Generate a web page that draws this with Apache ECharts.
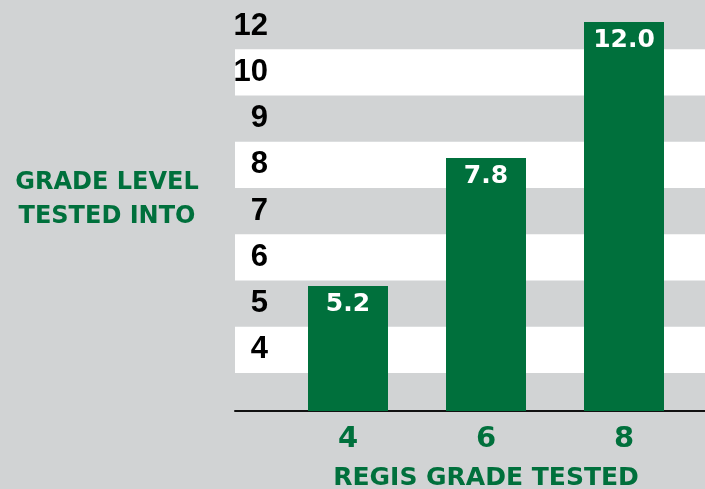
<!DOCTYPE html>
<html>
<head>
<meta charset="utf-8">
<script src="https://cdn.jsdelivr.net/npm/echarts@6/dist/echarts.min.js"></script>
<style>
  html, body { margin: 0; padding: 0; background: #d1d3d4; }
  #chart { width: 705px; height: 489px; }
</style>
</head>
<body>
<div id="chart"></div>
<script>
// regis grade tested vs grade level tested into
const categories = ['4', '6', '8'];
const values = [5.2, 7.8, 12.0];
const yTickLabels = ['4', '5', '6', '7', '8', '9', '10', '12'];
const xAxisTitle = 'REGIS GRADE TESTED';
const yAxisTitle = 'GRADE LEVEL\nTESTED INTO';

const green = '#00703c';
const wideFont = "'DejaVu Sans', 'Open Sans', sans-serif";
const narrowFont = "'Liberation Sans', Arial, sans-serif";

const chart = echarts.init(document.getElementById('chart'));

chart.setOption({
  backgroundColor: '#d1d3d4',
  animation: false,
  graphic: [{
    type: 'text',
    x: 107,
    y: 166,
    style: {
      text: yAxisTitle,
      textAlign: 'center',
      textVerticalAlign: 'top',
      fill: green,
      font: 'bold 24px ' + wideFont,
      lineHeight: 34
    }
  }],
  grid: [
    // bars
    { left: 279, right: 12, top: 22, bottom: 78, outerBoundsMode: 'none', containLabel: false },
    // bands + tick labels
    { left: 235, right: 0, top: 3, bottom: 116, outerBoundsMode: 'none', containLabel: false }
  ],
  xAxis: [{
    type: 'category',
    gridIndex: 0,
    data: categories,
    axisLine: { show: false },
    axisTick: { show: false },
    axisLabel: {
      color: green,
      fontFamily: wideFont,
      fontWeight: 'bold',
      fontSize: 29,
      margin: 14
    },
    name: xAxisTitle,
    nameLocation: 'middle',
    nameGap: 55,
    nameTextStyle: {
      color: green,
      fontFamily: wideFont,
      fontWeight: 'bold',
      fontSize: 25
    }
  }, {
    type: 'value',
    gridIndex: 1,
    offset: 38,
    axisLine: { show: true, lineStyle: { color: '#111', width: 2 } },
    axisTick: { show: false },
    axisLabel: { show: false },
    splitLine: { show: false }
  }],
  yAxis: [{
    type: 'log',
    gridIndex: 0,
    min: 3.5,
    max: 12,
    show: false
  }, {
    type: 'category',
    gridIndex: 1,
    data: yTickLabels,
    axisLine: { show: false },
    axisTick: { show: false },
    splitLine: { show: false },
    splitArea: {
      show: true,
      areaStyle: { color: ['#ffffff', 'rgba(0,0,0,0)'] }
    },
    axisLabel: {
      inside: true,
      align: 'right',
      margin: 33,
      color: '#000',
      fontFamily: narrowFont,
      fontWeight: 'bold',
      fontSize: 31
    }
  }],
  series: [{
    type: 'bar',
    xAxisIndex: 0,
    yAxisIndex: 0,
    data: values,
    barWidth: 80,
    clip: true,
    itemStyle: { color: green },
    label: {
      show: true,
      position: 'insideTop',
      distance: 6,
      color: '#fff',
      fontFamily: wideFont,
      fontWeight: 'bold',
      fontSize: 25,
      formatter: p => p.value.toFixed(1)
    }
  }]
});
</script>
</body>
</html>
